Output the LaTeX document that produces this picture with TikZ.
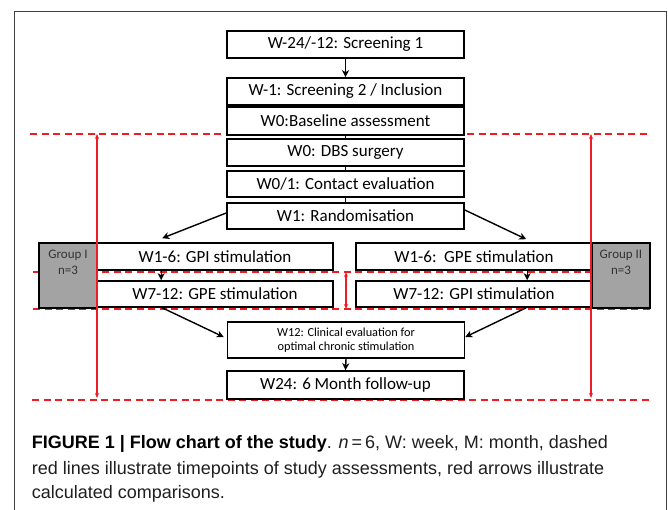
\documentclass[tikz,border=0pt]{standalone}
\usepackage{fontspec}
\setmainfont{Carlito}
\newfontfamily\capfont{Liberation Sans}
\usetikzlibrary{arrows.meta,calc}
\definecolor{grpgray}{HTML}{A3A3A3}
\definecolor{tred}{HTML}{EE1C25}
\begin{document}
\begin{tikzpicture}[x=1pt,y=-1pt,
  box/.style={draw=black, line width=1.6pt, fill=white, inner sep=0pt, font=\fontsize{17}{20}\selectfont},
  mainbox/.style={box, minimum width=237pt, minimum height=27pt},
  sidebox/.style={box, minimum width=236pt, minimum height=27pt},
  grp/.style={draw=black, line width=1.6pt, fill=grpgray, inner sep=0pt, minimum width=58pt, minimum height=65pt},
  grptext/.style={inner sep=0pt, align=center, text=black!80, font=\fontsize{13}{16}\selectfont},
  arr/.style={-{Stealth[length=7pt,width=7pt,inset=2pt]}, line width=1.4pt},
  link/.style={line width=1pt},
  tline/.style={tred, dash pattern=on 7pt off 4.5pt, line width=1.8pt},
  rarr/.style={tred, line width=1.1pt, {Stealth[length=5pt,width=4pt]}-{Stealth[length=5pt,width=4pt]}},
  captext/.style={anchor=base west, inner sep=0pt, text=black!88, font=\capfont\fontsize{18}{25}\selectfont},
]
\useasboundingbox (0,0) rectangle (668,510);
\fill[white] (0,0) rectangle (668,510);
% frame
\draw[black!75, line width=0.9pt] (14,515) -- (14,11) -- (666.5,11) -- (666.5,515);

% timepoint lines
\coordinate (a1) at (30,134);  \coordinate (a2) at (651,134);
\coordinate (b1) at (33,272);  \coordinate (b2) at (653,272);
\coordinate (c1) at (33,309);  \coordinate (c2) at (653,309);
\coordinate (d1) at (32,400);  \coordinate (d2) at (651,400);
\draw[tline] (a1) -- (a2);
\draw[tline] (b1) -- (b2);
\draw[tline] (c1) -- (c2);
\draw[tline] (d1) -- (d2);

% main column
\node[mainbox] (s1) at (345.5,44.5) {W-24/-12: Screening 1};
\node[mainbox] (s2) at (345.5,91.5) {W-1: Screening 2 / Inclusion};
\node[mainbox, minimum height=28pt] (base) at (345.5,121) {W0:Baseline assessment};
\node[mainbox] (dbs) at (345.5,152.5) {W0: DBS surgery};
\node[mainbox, minimum height=26pt] (cont) at (345.5,184) {W0/1: Contact evaluation};
\node[mainbox, minimum height=26pt] (rand) at (345.5,216) {W1: Randomisation};
\node[mainbox, minimum width=237pt, minimum height=36pt, align=center, font=\fontsize{12.3}{13.5}\selectfont] (clin) at (346,340) {W12: Clinical evaluation for\\optimal chronic stimulation};
\node[mainbox, minimum height=28pt] (w24) at (345.5,385) {W24: 6 Month follow-up};

% left group
\node[grp] (g1) at (68,275.5) {};
\node[grptext, anchor=north] (g1t) at (68,249.5) {Group I\\n=3};
\node[sidebox] (gpi) at (215,256.5) {W1-6: GPI stimulation};
\node[sidebox, minimum height=26pt] (gpel) at (215,294) {W7-12: GPE stimulation};

% right group
\node[grp] (g2) at (621,275.5) {};
\node[grptext, anchor=north] (g2t) at (621,249.5) {Group II\\n=3};
\node[sidebox] (gper) at (474,256.5) {W1-6:\ \ GPE stimulation};
\node[sidebox, minimum height=26pt] (gpir) at (474,294) {W7-12: GPI stimulation};

% connectors
\draw[arr] (s1.south) -- (s2.north);
\draw[link] (s2.south) -- (base.north);
\draw[link] (base.south) -- (dbs.north);
\draw[link] (dbs.south) -- (cont.north);
\draw[link] (cont.south) -- (rand.north);
\draw[arr] ($(rand.west)+(0,-3)$) -- ($(gpi.north west)+(66,-4)$);
\draw[arr] ($(rand.east)+(0,-6)$) -- ($(gper.north west)+(171,-3)$);
\draw[arr] ($(gpi.south west)+(65,0)$) -- ($(gpel.north west)+(65,0)$);
\draw[arr] ($(gper.south west)+(172,0)$) -- ($(gpir.north west)+(172,0)$);
\draw[arr] ($(gpel.south west)+(66,0)$) -- ($(clin.west)+(-3,-3)$);
\draw[arr] ($(gpir.south west)+(171,0)$) -- ($(clin.east)+(0,-3)$);
\draw[arr] (clin.south) -- (w24.north);

% comparison arrows
\coordinate (la) at (97,134);  \coordinate (lb) at (97,398);
\coordinate (ra) at (591,134); \coordinate (rb) at (591,398);
\coordinate (ma) at (346,272); \coordinate (mb) at (346,309);
\draw[rarr] (la) -- (lb);
\draw[rarr] (ra) -- (rb);
\draw[rarr] (ma) -- (mb);

% caption
\node[captext] (cap1) at (31.7,448.3) {\textbf{\color{black}FIGURE 1 | Flow chart of the study}. \textit{n}\,=\,6, W: week, M: month, dashed};
\node[captext] (cap2) at (31.7,474) {red lines illustrate timepoints of study assessments, red arrows illustrate};
\node[captext] (cap3) at (31.7,498.3) {calculated comparisons.};
\end{tikzpicture}
\end{document}
